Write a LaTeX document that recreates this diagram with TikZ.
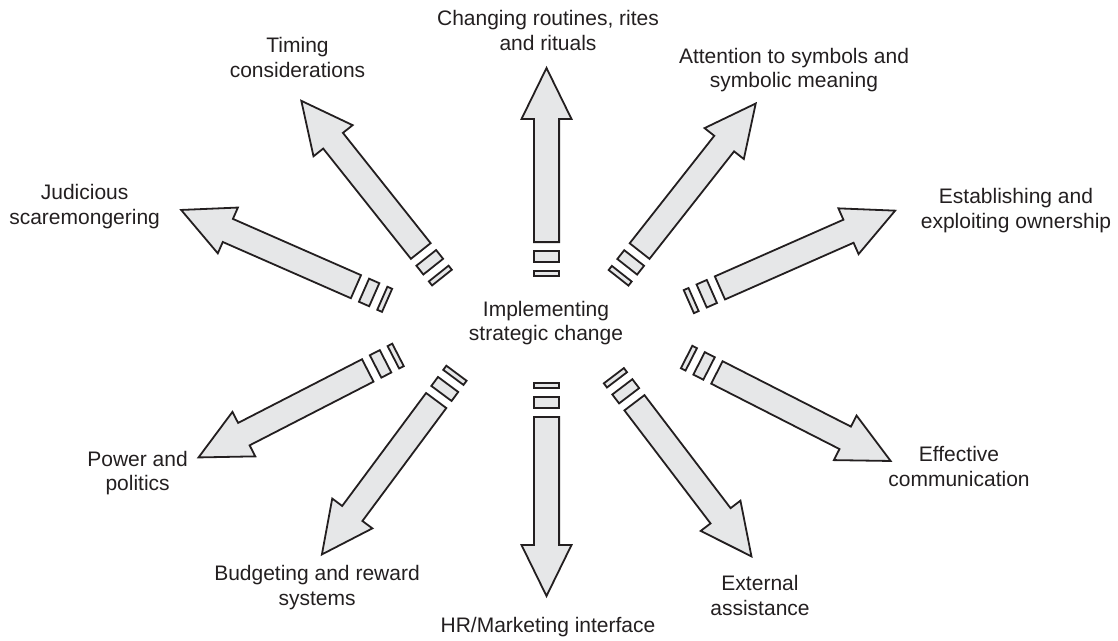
\documentclass[tikz,border=0pt]{standalone}
\usepackage{fontspec}
\setmainfont{Liberation Sans}
\usetikzlibrary{calc}
\definecolor{arrowFill}{HTML}{E6E7E8}
\definecolor{arrowLine}{HTML}{231F20}
\definecolor{topicText}{HTML}{231F20}

%% one lever arrow: #1 = inner end, #2 = direction (deg), #3 = length
\newcommand{\leverarrow}[3]{%
  \begin{scope}[shift={(#1)}, rotate=#2]
    \draw[arrowpart] (0.9,-12.6) rectangle (6.1,12.6);
    \draw[arrowpart] (14.9,-12.6) rectangle (26.1,12.6);
    \draw[arrowpart] (34.9,-12.6) -- ({#3-53},-12.6) -- ({#3-53},-25)
      -- ({#3-2},0) -- ({#3-53},25) -- ({#3-53},12.6) -- (34.9,12.6) -- cycle;
  \end{scope}}

\begin{document}
\begin{tikzpicture}[
  x=1pt, y=-1pt,
  %% Node styles
  topic/.style={
    align=center, inner sep=0pt, text=topicText,
    font=\fontsize{21}{24.5}\selectfont
  },
  %% Arrow styles
  arrowpart/.style={draw=arrowLine, fill=arrowFill,
                    line width=1.8pt, line join=miter},
]
\useasboundingbox (0,0) rectangle (1118,640);

%% ── Centre ─────────────────────────────────────────────────────────────────
\node[topic] (hub) at (546,323) {Implementing\\strategic change};

%% ── Inner ends of the arrows ───────────────────────────────────────────────
\coordinate (aRites)  at (546.5,277);
\coordinate (aSymbol) at (618,278.5);
\coordinate (aOwner)  at (688,302);
\coordinate (aComms)  at (685.8,356.6);
\coordinate (aExtern) at (613.3,375);
\coordinate (aHRM)    at (546.5,382);
\coordinate (aBudget) at (457,372.5);
\coordinate (aPower)  at (398.8,354.5);
\coordinate (aScare)  at (387.9,300.7);
\coordinate (aTiming) at (442.5,278.3);

%% ── Arrows ─────────────────────────────────────────────────────────────────
\leverarrow{aRites}{90}{211}
\leverarrow{aSymbol}{51.8}{224.7}
\leverarrow{aOwner}{23.8}{228.4}
\leverarrow{aComms}{-27}{231.9}
\leverarrow{aExtern}{-52.7}{230}
\leverarrow{aHRM}{-90}{216}
\leverarrow{aBudget}{233.4}{228.6}
\leverarrow{aPower}{207.2}{227.2}
\leverarrow{aScare}{156.3}{227.8}
\leverarrow{aTiming}{128.5}{228.8}

%% ── Labels ─────────────────────────────────────────────────────────────────
\node[topic] (rites)  at (548,30.5)   {Changing routines, rites\\and rituals};
\node[topic] (symbol) at (794,70)     {Attention to symbols and\\symbolic meaning};
\node[topic] (owner)  at (1016,210.5) {Establishing and\\exploiting ownership};
\node[topic] (comms)  at (959,466.5)  {Effective\\communication};
\node[topic] (extern) at (760,595.5)  {External\\assistance};
\node[topic] (hrm)    at (548,627)    {HR/Marketing interface};
\node[topic] (budget) at (317,587.5)  {Budgeting and reward\\systems};
\node[topic] (power)  at (137.6,473)  {Power and\\politics};
\node[topic] (scare)  at (84.6,206.5) {Judicious\\scaremongering};
\node[topic] (timing) at (297.5,57.5) {Timing\\considerations};

\end{tikzpicture}
\end{document}
